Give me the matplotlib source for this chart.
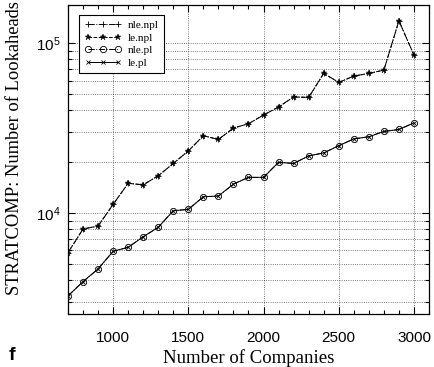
import numpy as np
import matplotlib
matplotlib.use('Agg')
import matplotlib.pyplot as plt
from matplotlib.ticker import MultipleLocator, LogLocator, NullFormatter

plt.rcParams['font.family'] = 'sans-serif'
plt.rcParams['font.sans-serif'] = ['Liberation Sans', 'DejaVu Sans']
plt.rcParams['mathtext.fontset'] = 'custom'
plt.rcParams['mathtext.rm'] = 'Liberation Sans'

# number of companies
companies = np.arange(700, 3001, 100)

# lookaheads, non-pruned runs
nle_npl = [5820, 8020, 8350, 11200, 14900, 14600, 16500, 19500, 23100, 28400,
           27000, 31500, 33400, 37600, 41900, 48100, 47700, 66100, 58500, 63700,
           66100, 69100, 134700, 84700]
le_npl = list(nle_npl)

# lookaheads, pruned runs
nle_pl = [3240, 3930, 4670, 5930, 6260, 7220, 8210, 10270, 10470, 12420,
          12540, 14750, 16150, 16150, 19800, 19500, 21600, 22500, 24800, 27200,
          28000, 30100, 30900, 33800]
le_pl = list(nle_pl)

fig = plt.figure(figsize=(4.35, 3.67), dpi=100)
ax = fig.add_axes([0.1563, 0.1444, 0.9862 - 0.1563, 0.9864 - 0.1444])

ax.semilogy(companies, nle_npl, color='k', ls='-.', lw=0.7, marker='+', ms=4.5,
            mew=0.6, label='nle.npl')
ax.semilogy(companies, le_npl, color='k', ls='--', lw=0.7, marker='*', ms=5,
            mew=0.3, label='le.npl')
ax.semilogy(companies, nle_pl, color='k', ls='-.', lw=0.7, marker='o', ms=4.5,
            mfc='none', mew=0.6, label='nle.pl')
ax.semilogy(companies, le_pl, color='k', ls='-', lw=0.7, marker='x', ms=3.5,
            mew=0.6, label='le.pl')

ax.set_xlim(700, 3100)
ax.set_ylim(2535, 1.67e5)

ax.xaxis.set_major_locator(MultipleLocator(500))
ax.xaxis.set_minor_locator(MultipleLocator(100))
ax.yaxis.set_major_locator(LogLocator(base=10))
ax.yaxis.set_minor_locator(LogLocator(base=10, subs=np.arange(2, 10)))
ax.yaxis.set_minor_formatter(NullFormatter())

ax.tick_params(which='both', direction='in', top=True, right=True, labelsize=11,
               width=0.8)
ax.tick_params(which='major', length=5)
ax.tick_params(which='minor', length=3)
ax.tick_params(axis='x', pad=12)
ax.tick_params(axis='y', pad=5)

dot = (0, (1, 2.2))
ax.grid(True, which='major', axis='x', color='k', ls=dot, lw=0.5)
ax.grid(True, which='both', axis='y', color='k', ls=dot, lw=0.5)

for sp in ax.spines.values():
    sp.set_linewidth(0.9)

ax.set_xlabel('Number of Companies', family='Liberation Serif', fontsize=13.5,
              labelpad=3)
fig.text(15 / 435, 1 - 148 / 367, 'STRATCOMP: Number of Lookaheads',
         family='Liberation Serif', fontsize=13.3, rotation=90,
         ha='center', va='center')
fig.text(12 / 435, 1 - 355 / 367, 'f', fontsize=14, fontweight='bold',
         ha='center', va='center')

leg = ax.legend(loc='upper left', bbox_to_anchor=(0.03, 0.968), numpoints=3,
                handlelength=3.3, prop={'family': 'Liberation Serif', 'size': 8},
                fancybox=False, framealpha=1, edgecolor='k', borderaxespad=0,
                labelspacing=0.25, borderpad=0.5, handletextpad=0.6)
leg.get_frame().set_linewidth(0.8)

fig.savefig('out.png', dpi=100)
